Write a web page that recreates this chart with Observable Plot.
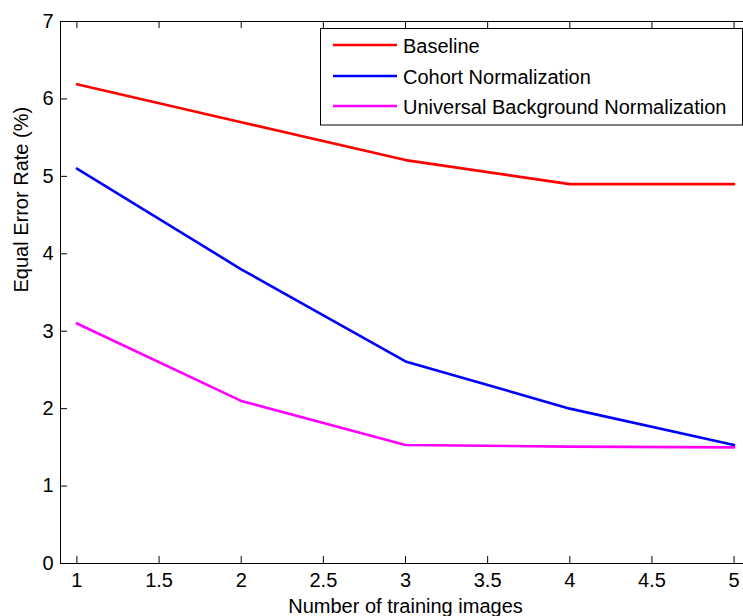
<!DOCTYPE html>
<html>
<head>
<meta charset="utf-8">
<script src="https://cdn.jsdelivr.net/npm/d3@7"></script>
<script src="https://cdn.jsdelivr.net/npm/@observablehq/plot@0.6"></script>
<style>
  html, body { margin: 0; padding: 0; background: #fff; overflow: hidden; }
  #chart svg { display: block; }
</style>
</head>
<body>
<div id="chart"></div>
<script>
// ---- data ----
const xValues = [1, 2, 3, 4, 5];
const baselineValues = [6.19, 5.7, 5.21, 4.9, 4.9];
const cohortValues = [5.1, 3.8, 2.61, 2.0, 1.53];
const ubnValues = [3.1, 2.1, 1.53, 1.51, 1.5];
const seriesNames = ["Baseline", "Cohort Normalization", "Universal Background Normalization"];
const seriesColors = ["#ff0000", "#0000ff", "#ff00ff"];
const xTicks = [1, 1.5, 2, 2.5, 3, 3.5, 4, 4.5, 5];
const yTicks = [0, 1, 2, 3, 4, 5, 6, 7];
const xLabel = "Number of training images";
const yLabel = "Equal Error Rate (%)";

const allSeries = [baselineValues, cohortValues, ubnValues];
const rows = [];
allSeries.forEach((vals, i) => vals.forEach((v, j) => rows.push({series: seriesNames[i], x: xValues[j], y: v})));

const W = 743, H = 616;
const mL = 60, mR = -7, mT = 21, mB = 53;
const frameW = W - mL - mR, frameH = H - mT - mB;
const tick = 7;
const font = "'Liberation Sans', Arial, Helvetica, sans-serif";

const chart = Plot.plot({
  width: W, height: H,
  marginLeft: mL, marginRight: mR, marginTop: mT, marginBottom: mB,
  style: {fontFamily: font, fontSize: "20px", background: "#fff", color: "#000", overflow: "hidden"},
  x: {domain: [0.9, 5.1], axis: null},
  y: {domain: [0, 7], axis: null},
  color: {domain: seriesNames, range: seriesColors},
  marks: [
    Plot.frame({stroke: "#000", strokeWidth: 1}),
    // inward ticks bottom & top
    Plot.tickX(xTicks, {x: d => d, insetTop: frameH - tick, stroke: "#000", strokeWidth: 1}),
    Plot.tickX(xTicks, {x: d => d, insetBottom: frameH - tick, stroke: "#000", strokeWidth: 1}),
    // inward ticks left & right
    Plot.tickY(yTicks, {y: d => d, insetRight: frameW - tick, stroke: "#000", strokeWidth: 1}),
    Plot.tickY(yTicks, {y: d => d, insetLeft: frameW - tick, stroke: "#000", strokeWidth: 1}),
    // tick labels
    Plot.text(xTicks, {x: d => d, text: d => String(d), frameAnchor: "bottom", lineAnchor: "bottom", dy: 23, fontSize: 20, fill: "#000"}),
    Plot.text(yTicks, {y: d => d, text: d => String(d), frameAnchor: "left", textAnchor: "end", dx: -7, fontSize: 20, fill: "#000"}),
    // axis labels
    Plot.text([xLabel], {text: d => d, frameAnchor: "bottom", lineAnchor: "bottom", dy: 49, fontSize: 20, fill: "#000"}),
    Plot.text([yLabel], {text: d => d, frameAnchor: "left", rotate: -90, lineAnchor: "bottom", dx: -33, fontSize: 20, fill: "#000"}),
    // data lines
    Plot.line(rows, {x: "x", y: "y", z: "series", stroke: "series", strokeWidth: 2.6})
  ]
});

document.getElementById("chart").appendChild(chart);

// ---- legend (drawn on top of the plot) ----
const svg = d3.select(chart);
const lg = svg.append("g").attr("font-family", font).attr("font-size", 20).attr("text-anchor", "start");
const box = {x: 320.5, y: 28.5, w: 422, h: 96.5};
lg.append("rect").attr("x", box.x).attr("y", box.y).attr("width", box.w).attr("height", box.h)
  .attr("fill", "#fff").attr("stroke", "#000").attr("stroke-width", 1);
const rowY = [45, 76, 106];
seriesNames.forEach((name, i) => {
  lg.append("line").attr("x1", 333).attr("x2", 397).attr("y1", rowY[i]).attr("y2", rowY[i])
    .attr("stroke", seriesColors[i]).attr("stroke-width", 2.6);
  lg.append("text").attr("x", 403).attr("y", rowY[i] + 7.5).attr("fill", "#000")
    .attr("text-anchor", "start").text(name);
});
</script>
</body>
</html>
